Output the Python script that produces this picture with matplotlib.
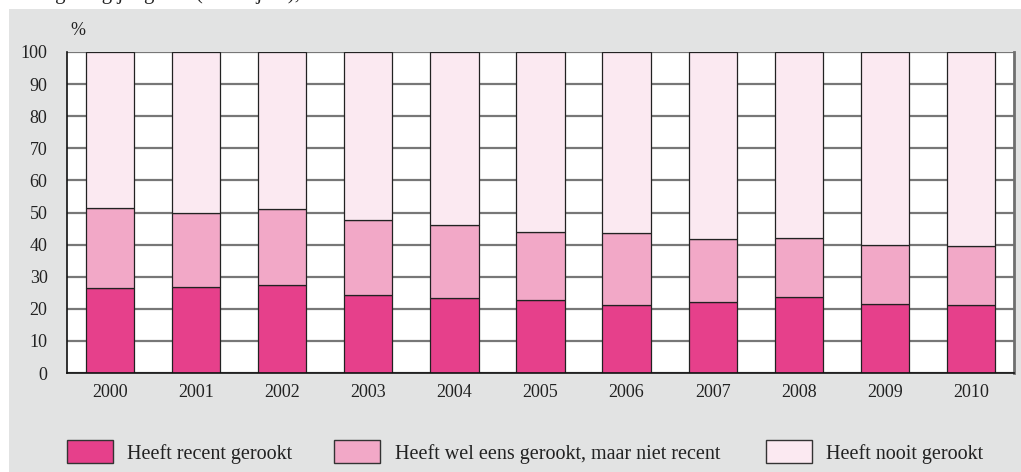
import matplotlib.pyplot as plt
from matplotlib.patches import Rectangle

plt.rcParams['font.family'] = ['Liberation Serif', 'DejaVu Serif']

# Data (percentages)
YEARS = ["2000", "2001", "2002", "2003", "2004", "2005", "2006", "2007", "2008", "2009", "2010"]
RECENT = [26.6, 26.9, 27.5, 24.2, 23.5, 22.6, 21.1, 22.0, 23.7, 21.4, 21.1]
EVER = [24.7, 23.1, 23.7, 23.4, 22.6, 21.2, 22.6, 19.8, 18.5, 18.4, 18.5]
NEVER = [100 - r - e for r, e in zip(RECENT, EVER)]

LABELS = ["Heeft recent gerookt", "Heeft wel eens gerookt, maar niet recent", "Heeft nooit gerookt"]
COLORS = ["#e6408b", "#f2a8c7", "#fbe9f1"]

W, H = 1021, 472
fig = plt.figure(figsize=(W / 100, H / 100), dpi=100, facecolor='white')

# gray panel behind the chart
fig.patches.append(Rectangle((9 / W, 0), 1 - 9 / W, (H - 9) / H, transform=fig.transFigure,
                             facecolor='#e2e3e3', edgecolor='none', zorder=-5))

# cropped title line at the very top (only its descenders show, as in the source)
fig.text(10 / W, 1 + 1 / H, "Rookgedrag jongeren (12-16 jaar), 2000-2010", fontsize=15,
         va='baseline', ha='left', color='#222222')

ax = fig.add_axes([67 / W, (H - 373) / H, (1014 - 67) / W, (373 - 52) / H])
ax.set_zorder(2)
ax.set_facecolor('white')

x = range(len(YEARS))
bottom2 = RECENT
bottom3 = [r + e for r, e in zip(RECENT, EVER)]
ax.bar(x, RECENT, width=0.56, color=COLORS[0], edgecolor='#222222', linewidth=0.9, zorder=3)
ax.bar(x, EVER, bottom=bottom2, width=0.56, color=COLORS[1], edgecolor='#222222', linewidth=0.9, zorder=3)
ax.bar(x, NEVER, bottom=bottom3, width=0.56, color=COLORS[2], edgecolor='#222222', linewidth=0.9, zorder=3)

ax.set_xlim(-0.5, len(YEARS) - 0.5)
ax.set_ylim(0, 100)
ax.set_yticks(range(0, 101, 10))
ax.set_xticks(list(x))
ax.set_xticklabels(YEARS)
ax.tick_params(axis='both', length=0, labelsize=13, colors='#222222')
ax.tick_params(axis='y', pad=14)
ax.tick_params(axis='x', pad=8)
ax.yaxis.grid(True, color='#777777', linewidth=1.6, zorder=1)
ax.set_axisbelow(True)

for side in ['left', 'bottom']:
    ax.spines[side].set_color('#111111')
    ax.spines[side].set_linewidth(1.2)
    ax.spines[side].set_zorder(4)
ax.spines['right'].set_color('#6f6f6f')
ax.spines['right'].set_linewidth(2.0)
ax.spines['top'].set_visible(False)

ax.text(0.0116, 1.068, "%", transform=ax.transAxes, fontsize=13, ha='center', va='center', color='#222222')

# Legend drawn manually along the bottom
LEG_BOX_X = [67, 334, 766]
LEG_TEXT_X = [127, 395, 826]
for bx, tx, lab, col in zip(LEG_BOX_X, LEG_TEXT_X, LABELS, COLORS):
    fig.patches.append(Rectangle((bx / W, (H - 463) / H), 46 / W, 23 / H, transform=fig.transFigure,
                                 facecolor=col, edgecolor='#333333', linewidth=1.0, zorder=2))
    fig.text(tx / W, (H - 454) / H, lab, fontsize=14.5, ha='left', va='center', color='#222222')

fig.savefig("out.png", dpi=100, facecolor=fig.get_facecolor())
